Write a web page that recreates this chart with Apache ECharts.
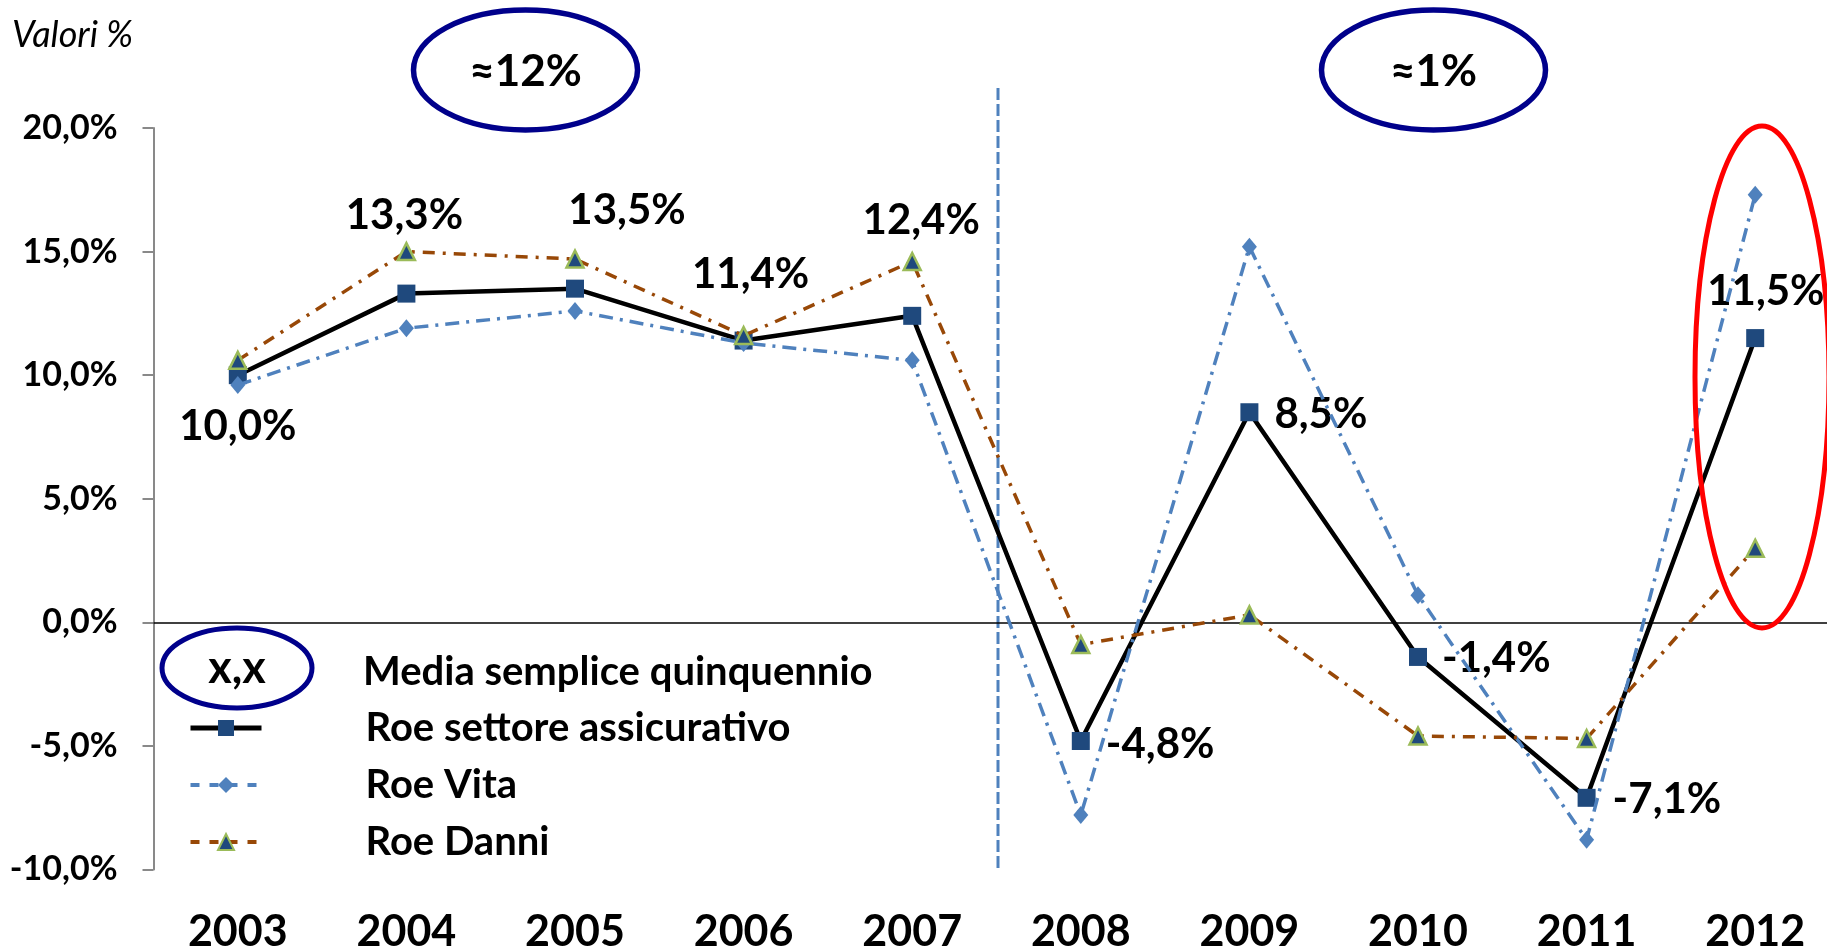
<!DOCTYPE html>
<html><head><meta charset="utf-8">
<script src="https://cdn.jsdelivr.net/npm/echarts@6/dist/echarts.min.js"></script>
<style>html,body{margin:0;padding:0;background:#fff}#c{width:1827px;height:951px}</style>
</head><body><div id="c"></div>
<script>
// ---- data ----
const years = ['2003','2004','2005','2006','2007','2008','2009','2010','2011','2012'];
const roe   = [10.0, 13.3, 13.5, 11.4, 12.4, -4.8, 8.5, -1.4, -7.1, 11.5];
const vita  = [9.6, 11.9, 12.6, 11.3, 10.6, -7.8, 15.2, 1.1, -8.8, 17.3];
const danni = [10.6, 15.0, 14.7, 11.6, 14.6, -0.9, 0.3, -4.6, -4.7, 3.0];
const seriesNames = ['Roe settore assicurativo', 'Roe Vita', 'Roe Danni'];
const legendNote = 'Media semplice quinquennio';
const noteSymbol = 'x,x';
const periodNotes = ['≈12%', '≈1%'];
const yAxisTitle = 'Valori %';
const yMin = -10, yMax = 20, yStep = 5;

// ---- styling ----
const FONT = 'Lato, "Open Sans", sans-serif';
const fmt = v => v.toFixed(1).replace('.', ',') + '%';
const SQ = 18;
// label placement per point: dx, dy from the point, alignment
const labelPlace = [[0,51,'center'],[-2,-78,'center'],[52,-78,'center'],[7,-66,'center'],[9,-95,'center'],
                    [25,3,'left'],[25,2,'left'],[24,2,'left'],[26,2,'left'],[-48,-47,'left']];
const roeData = roe.map((v, i) => ({
  value: v,
  label: { position: [SQ/2 + labelPlace[i][0], SQ/2 + labelPlace[i][1]], align: labelPlace[i][2], verticalAlign: 'middle' }
}));

const vitaDash = [14, 7, 3, 7];
const danniDash = [12, 8, 3, 8];

const chart = echarts.init(document.getElementById('c'));
const navy = '#00008B';
chart.setOption({
  animation: false,
  backgroundColor: '#fff',
  textStyle: { fontFamily: FONT },
  grid: { left: 153.5, right: -12.5, top: 128, bottom: 81.5, containLabel: false, outerBoundsMode: 'none' },
  legend: {
    data: [
      { name: seriesNames[0], lineStyle: { width: 5, color: '#000' } },
      { name: seriesNames[1], lineStyle: { width: 4, color: '#4F81BD', type: [9, 10] } },
      { name: seriesNames[2], lineStyle: { width: 4, color: '#984807', type: [9, 10] } }
    ],
    orient: 'vertical', left: 188, top: 699.5, padding: 0, itemGap: 0,
    itemWidth: 71, itemHeight: 20,
    textStyle: { fontFamily: FONT, fontWeight: 'bold', fontSize: 40, color: '#000', lineHeight: 57, padding: [0,0,0,99] }
  },
  xAxis: {
    type: 'category', data: years, boundaryGap: true,
    axisLine: { show: false, onZero: false }, axisTick: { show: false },
    axisLabel: { fontFamily: FONT, fontWeight: 'bold', fontSize: 43, color: '#000', margin: 41 }
  },
  yAxis: {
    type: 'value', min: yMin, max: yMax, interval: yStep,
    axisLine: { show: true, lineStyle: { color: '#898989', width: 2 } },
    axisTick: { show: true, length: 11, lineStyle: { color: '#898989', width: 2 } },
    splitLine: { show: false },
    axisLabel: { formatter: fmt, fontFamily: FONT, fontWeight: 'bold', fontSize: 34, color: '#000', margin: 36 }
  },
  series: [
    {
      name: seriesNames[0], type: 'line', data: roeData, z: 3,
      symbol: 'rect', symbolSize: SQ,
      itemStyle: { color: '#1F497D' },
      lineStyle: { color: '#000', width: 4.5 },
      label: { show: true, formatter: p => fmt(p.value), fontFamily: FONT, fontWeight: 'bold', fontSize: 42, color: '#000' },
      markLine: { silent: true, symbol: 'none', label: { show: false }, lineStyle: { color: '#000', width: 1.5, type: 'solid' }, data: [{ yAxis: 0 }], z: 1 }
    },
    {
      name: seriesNames[1], type: 'line', data: vita, z: 4,
      symbol: 'diamond', symbolSize: [15, 18],
      itemStyle: { color: '#4F81BD' },
      lineStyle: { color: '#4F81BD', width: 3.5, type: vitaDash }
    },
    {
      name: seriesNames[2], type: 'line', data: danni, z: 5,
      symbol: 'triangle', symbolSize: 17,
      itemStyle: { color: '#1F497D', borderColor: '#9BBB59', borderWidth: 2.5 },
      lineStyle: { color: '#984807', width: 3.5, type: danniDash }
    }
  ],
  graphic: [
    { type: 'text', left: 12, top: 17, style: { text: yAxisTitle, font: 'italic 36px ' + FONT, fill: '#000' } },
    { type: 'ellipse', shape: { cx: 525.5, cy: 70, rx: 112, ry: 60 }, style: { fill: 'none', stroke: navy, lineWidth: 5.5 } },
    { type: 'text', x: 525.5, y: 72, style: { text: periodNotes[0], font: 'bold 44px ' + FONT, fill: '#000', align: 'center', verticalAlign: 'middle' } },
    { type: 'ellipse', shape: { cx: 1433.5, cy: 70, rx: 112, ry: 60 }, style: { fill: 'none', stroke: navy, lineWidth: 5.5 } },
    { type: 'text', x: 1433.5, y: 72, style: { text: periodNotes[1], font: 'bold 44px ' + FONT, fill: '#000', align: 'center', verticalAlign: 'middle' } },
    { type: 'ellipse', shape: { cx: 237, cy: 668, rx: 75, ry: 40 }, style: { fill: 'none', stroke: navy, lineWidth: 5 } },
    { type: 'text', x: 237, y: 668, style: { text: noteSymbol, font: 'bold 45px ' + FONT, fill: '#000', align: 'center', verticalAlign: 'middle' } },
    { type: 'text', x: 363, y: 672, style: { text: legendNote, font: 'bold 40px ' + FONT, fill: '#000', align: 'left', verticalAlign: 'middle' } },
    { type: 'line', shape: { x1: 998, y1: 88, x2: 998, y2: 871 }, style: { stroke: '#4F81BD', lineWidth: 3, lineDash: [12, 4] } },
    { type: 'ellipse', shape: { cx: 1762, cy: 377, rx: 67, ry: 251 }, style: { fill: 'none', stroke: '#FF0000', lineWidth: 5 }, z: 10 }
  ]
});
</script></body></html>
